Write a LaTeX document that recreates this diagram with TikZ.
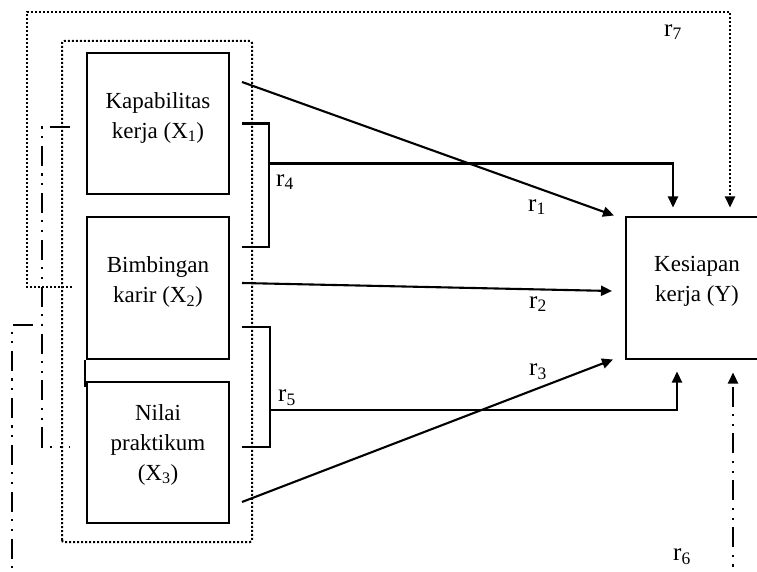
\documentclass[tikz,border=0pt]{standalone}
\usepackage{fontspec}
\setmainfont{Liberation Serif}
\usetikzlibrary{arrows.meta}

\tikzset{
  varbox/.style={draw,line width=2pt,minimum width=142pt,minimum height=141pt,inner sep=0pt},
  boxtext/.style={align=center,font=\fontsize{23}{30}\selectfont},
  coef/.style={font=\fontsize{25}{30}\selectfont},
  link/.style={line width=2.1pt},
  dotline/.style={line width=2pt,dash pattern=on 2pt off 2pt},
  dashdot/.style={line width=2.2pt,dash pattern=on 20pt off 7.5pt on 2.2pt off 7.5pt on 2.2pt off 7.5pt}
}

\begin{document}
\begin{tikzpicture}[x=1pt,y=1pt,>={Triangle[length=11pt,width=10pt]}]

  \clip (0,0) rectangle (757,571);

  % variables
  \node[varbox] (x1) at (158,447.5) {};
  \node[varbox] (x2) at (158,283) {};
  \node[varbox] (x3) at (158,118.5) {};
  \node[varbox] (ky) at (697,283) {};

  \node[boxtext] (x1t) at ([yshift=6]x1.center) {Kapabilitas\\kerja (X\textsubscript{1})};
  \node[boxtext] (x2t) at ([yshift=6]x2.center) {Bimbingan\\karir (X\textsubscript{2})};
  \node[boxtext] (x3t) at ([yshift=8]x3.center) {Nilai\\praktikum\\(X\textsubscript{3})};
  \node[boxtext] (kyt) at ([yshift=7]ky.center) {Kesiapan\\kerja (Y)};

  \draw[line width=1.5pt] ([xshift=-1]x2.south west) -- ([shift={(-1,-6)}]x3.north west);

  % group of X
  \draw[dotline,rounded corners=2pt] (62,29) rectangle (252,530);

  % direct paths
  \draw[link,->] ([shift={(12,41.5)}]x1.east) -- ([shift={(-11,1)}]ky.north west);
  \draw[link,->] ([shift={(12,5)}]x2.east) -- ([shift={(-13,-3)}]ky.west);
  \draw[link,->] ([shift={(12,-49.5)}]x3.east) -- ([xshift=-12]ky.south west);

  % pairs X1,X2 and X2,X3
  \draw[link] ([xshift=12]x1.east) -| ([shift={(39,41)}]x2.east) -- ([shift={(12,41)}]x2.east);
  \draw[link,->] ([shift={(39,-40)}]x1.east) -| ([shift={(-24,9)}]ky.north);
  \draw[link] ([shift={(12,-39)}]x2.east) -| ([shift={(40,5.5)}]x3.east) -- ([shift={(12,5.5)}]x3.east);
  \draw[link,->] ([shift={(40,42.5)}]x3.east) -| ([shift={(-20,-12)}]ky.south);

  % X1,X3 and all together
  \draw[dashdot] ([shift={(-16,-3.5)}]x1.west) -| ([shift={(-44,5.5)}]x3.west) -- ([shift={(-16,5.5)}]x3.west);
  \draw[dashdot,->] ([shift={(-53,-37)}]x2.west) -| (12,-10) -| ([shift={(36,-13)}]ky.south);
  \draw[dotline,->] ([shift={(-14,1)}]x2.west) -| (27,559) -| ([shift={(33,9)}]ky.north);

  \node[coef] (r1) at (537,364) {r\textsubscript{1}};
  \node[coef] (r2) at (538,267) {r\textsubscript{2}};
  \node[coef] (r3) at (538,199) {r\textsubscript{3}};
  \node[coef] (r4) at (285,389) {r\textsubscript{4}};
  \node[coef] (r5) at (287,173) {r\textsubscript{5}};
  \node[coef] (r6) at (682,14) {r\textsubscript{6}};
  \node[coef] (r7) at (673,539) {r\textsubscript{7}};

\end{tikzpicture}
\end{document}
